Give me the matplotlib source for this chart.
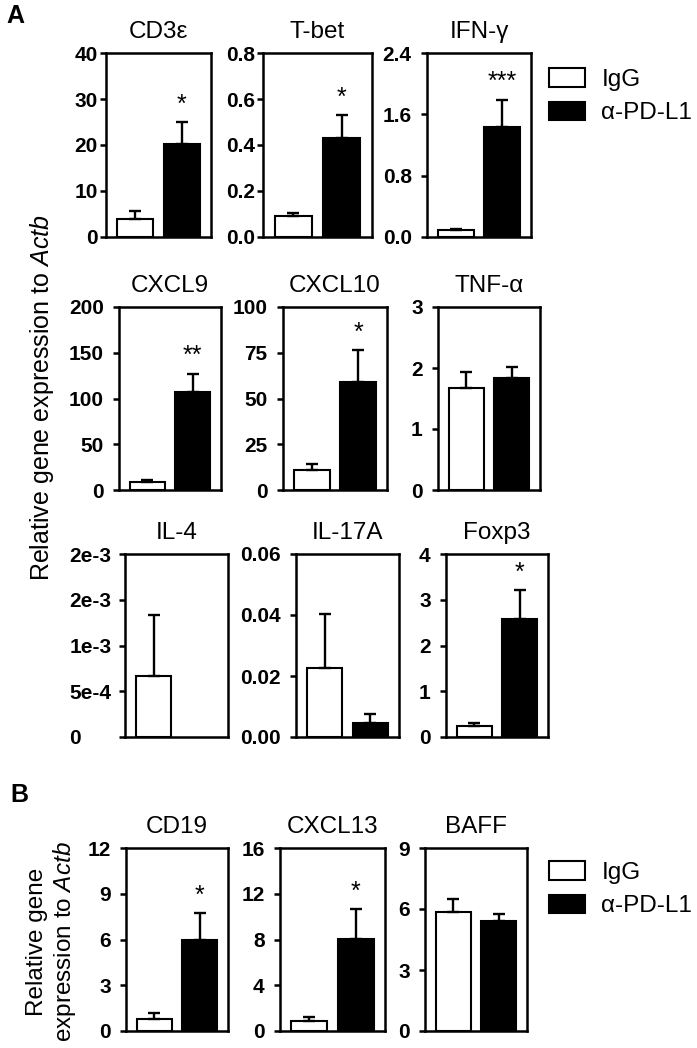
import matplotlib
matplotlib.use("Agg")
import matplotlib.pyplot as plt
from matplotlib.patches import Patch

plt.rcParams["font.family"] = ["Liberation Sans", "DejaVu Sans"]
plt.rcParams["mathtext.fontset"] = "custom"
plt.rcParams["mathtext.rm"] = "Liberation Sans"
plt.rcParams["mathtext.it"] = "Liberation Sans:italic"

# Panel A data
genes_a = ["CD3ε", "T-bet", "IFN-γ", "CXCL9", "CXCL10", "TNF-α", "IL-4", "IL-17A", "Foxp3"]
igg_mean_a = [3.9, 0.09, 0.09, 8.2, 10.9, 1.68, 6.7e-4, 0.0227, 0.25]
igg_err_a = [1.8, 0.015, 0.02, 2.7, 3.3, 0.26, 6.6e-4, 0.0175, 0.05]
pdl1_mean_a = [20.2, 0.43, 1.44, 107, 59, 1.84, 0.0, 0.0045, 2.58]
pdl1_err_a = [4.7, 0.10, 0.35, 20, 17.5, 0.18, 0.0, 0.0029, 0.63]
stars_a = ["*", "*", "***", "**", "*", "", "", "", "*"]
yticks_a = [
    [0, 10, 20, 30, 40],
    [0.0, 0.2, 0.4, 0.6, 0.8],
    [0.0, 0.8, 1.6, 2.4],
    [0, 50, 100, 150, 200],
    [0, 25, 50, 75, 100],
    [0, 1, 2, 3],
    [0, 5e-4, 1e-3, 1.5e-3, 2e-3],
    [0.0, 0.02, 0.04, 0.06],
    [0, 1, 2, 3, 4],
]
yticklabels_a = [
    ["0", "10", "20", "30", "40"],
    ["0.0", "0.2", "0.4", "0.6", "0.8"],
    ["0.0", "0.8", "1.6", "2.4"],
    ["0", "50", "100", "150", "200"],
    ["0", "25", "50", "75", "100"],
    ["0", "1", "2", "3"],
    ["0", "5e-4", "1e-3", "2e-3", "2e-3"],
    ["0.00", "0.02", "0.04", "0.06"],
    ["0", "1", "2", "3", "4"],
]

# Panel B data
genes_b = ["CD19", "CXCL13", "BAFF"]
igg_mean_b = [0.78, 0.87, 5.85]
igg_err_b = [0.37, 0.38, 0.65]
pdl1_mean_b = [6.0, 8.03, 5.39]
pdl1_err_b = [1.74, 2.6, 0.38]
stars_b = ["*", "*", ""]
yticks_b = [[0, 3, 6, 9, 12], [0, 4, 8, 12, 16], [0, 3, 6, 9]]
yticklabels_b = [["0", "3", "6", "9", "12"], ["0", "4", "8", "12", "16"], ["0", "3", "6", "9"]]

groups = ["IgG", "α-PD-L1"]

W, H = 697, 1048
fig = plt.figure(figsize=(W / 100, H / 100), dpi=100)

# axes boxes in pixels: left, top, right, bottom
boxes_a = [
    (106, 53, 211, 237), (263, 53, 372, 237), (427, 53, 531, 237),
    (119, 307, 221, 490), (283, 307, 387, 490), (438, 307, 540, 490),
    (125, 554, 228, 737), (296, 554, 399, 737), (446, 554, 548, 737),
]
boxes_b = [(126, 848, 228, 1031), (280, 848, 385, 1031), (425, 848, 527, 1031)]


def add_ax(box):
    l, t, r, b = box
    return fig.add_axes([l / W, 1 - b / H, (r - l) / W, (b - t) / H])


def bar_panel(ax, title, means, errs, star, ticks, labels, pad=8):
    colors = ["white", "black"]
    for x in (0, 1):
        if means[x] == 0 and errs[x] == 0:
            continue  # nothing visible for an empty group
        ax.bar(x, means[x], width=0.78, color=colors[x],
               edgecolor="black", linewidth=1.5, zorder=2)
        ax.errorbar(x, means[x], yerr=[[0], [errs[x]]], fmt="none",
                    ecolor="black", elinewidth=1.7, capsize=4.5,
                    capthick=1.7, zorder=3)
    if star:
        top = means[1] + errs[1]
        ax.annotate(star, (1, top), xytext=(0, 4), textcoords="offset points",
                    ha="center", va="bottom", fontsize=18)
    ax.set_xlim(-0.63, 1.63)
    ax.set_ylim(ticks[0], ticks[-1])
    ax.set_xticks([])
    ax.set_yticks(ticks)
    ax.set_yticklabels(labels, fontsize=15, fontweight="bold")
    ax.tick_params(axis="y", direction="out", length=4, width=1.8, pad=pad)
    for sp in ax.spines.values():
        sp.set_linewidth(1.8)
    ax.set_title(title, fontsize=17.5, pad=11)


pads_a = [2, 2, 7, 7, 7, 7, 36, 7, 7]
for i, box in enumerate(boxes_a):
    ax = add_ax(box)
    bar_panel(ax, genes_a[i], [igg_mean_a[i], pdl1_mean_a[i]],
              [igg_err_a[i], pdl1_err_a[i]], stars_a[i],
              yticks_a[i], yticklabels_a[i], pad=pads_a[i])
    if genes_a[i] == "IL-4":
        for lbl in ax.get_yticklabels():
            lbl.set_horizontalalignment("left")

for i, box in enumerate(boxes_b):
    ax = add_ax(box)
    bar_panel(ax, genes_b[i], [igg_mean_b[i], pdl1_mean_b[i]],
              [igg_err_b[i], pdl1_err_b[i]], stars_b[i],
              yticks_b[i], yticklabels_b[i], pad=7)

# legends
handles = [Patch(facecolor="white", edgecolor="black", linewidth=1.5),
           Patch(facecolor="black", edgecolor="black", linewidth=1.5)]
for y_top in (68, 861):
    fig.legend(handles, groups, loc="upper left",
               bbox_to_anchor=(549 / W, 1 - y_top / H), frameon=False,
               fontsize=17.5, handlelength=1.5, handleheight=0.8,
               handletextpad=0.65, labelspacing=0.45, borderpad=0,
               borderaxespad=0)

# axis labels and panel letters
fig.text(42 / W, 1 - 398 / H, r"Relative gene expression to $\mathit{Actb}$",
         rotation=90, ha="center", va="center", fontsize=18)
fig.text(52 / W, 1 - 942 / H, "Relative gene\nexpression to $\\mathit{Actb}$",
         rotation=90, ha="center", va="center", fontsize=17.5, linespacing=1.1)
fig.text(6 / W, 1 - 4 / H, "A", fontsize=18, fontweight="bold", ha="left", va="top")
fig.text(10 / W, 1 - 783 / H, "B", fontsize=18, fontweight="bold", ha="left", va="top")

fig.savefig("out.png", dpi=100)
plt.close(fig)
